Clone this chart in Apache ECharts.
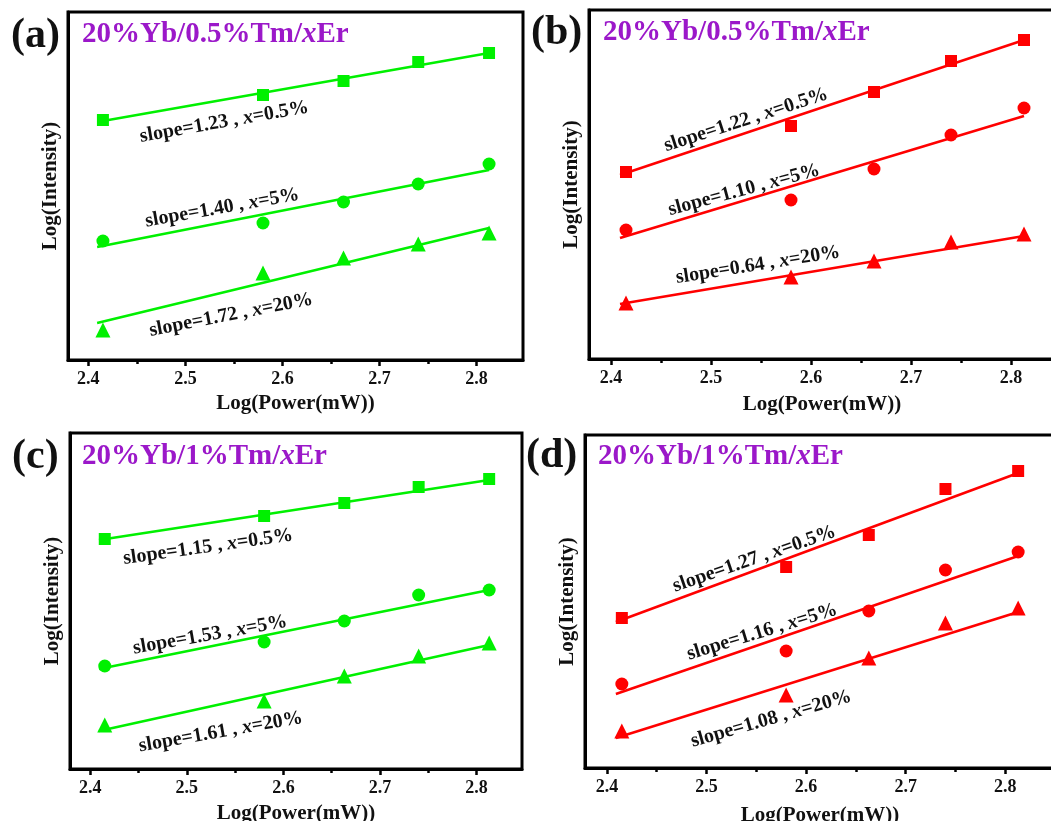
<!DOCTYPE html>
<html>
<head>
<meta charset="utf-8">
<script src="https://cdn.jsdelivr.net/npm/echarts@6/dist/echarts.min.js"></script>
<style>
  html, body { margin: 0; padding: 0; background: #fff; }
  #chart { width: 1051px; height: 821px; }
</style>
</head>
<body>
<div id="chart"></div>
<script>
// x values: log10 of pump power (260, 380, 460, 550, 650 mW)
const powerLog = [2.415, 2.580, 2.663, 2.740, 2.813]
const fitX = [2.409, 2.813]
const xTicks = [2.4, 2.5, 2.6, 2.7, 2.8]
const xMinorTicks = [2.45, 2.55, 2.65, 2.75]
const erContent = ['0.5%', '5%', '20%']

// (a) 20%Yb/0.5%Tm/xEr, green
const aSquare = [2.40, 2.65, 2.79, 2.98, 3.07]
const aCircle = [1.19, 1.37, 1.58, 1.76, 1.96]
const aTriangle = [0.30, 0.87, 1.02, 1.16, 1.27]
const aFitSquare = [2.38, 3.07]
const aFitCircle = [1.13, 1.90]
const aFitTriangle = [0.37, 1.32]
const aSlopes = ['1.23', '1.40', '1.72']

// (b) 20%Yb/0.5%Tm/xEr, red
const bSquare = [1.87, 2.33, 2.67, 2.98, 3.19]
const bCircle = [1.29, 1.59, 1.90, 2.24, 2.51]
const bTriangle = [0.56, 0.82, 0.98, 1.17, 1.25]
const bFitSquare = [1.84, 3.19]
const bFitCircle = [1.21, 2.43]
const bFitTriangle = [0.55, 1.23]
const bSlopes = ['1.22', '1.10', '0.64']

// (c) 20%Yb/1%Tm/xEr, green
const cSquare = [2.30, 2.53, 2.66, 2.82, 2.90]
const cCircle = [1.03, 1.27, 1.48, 1.74, 1.79]
const cTriangle = [0.44, 0.68, 0.93, 1.13, 1.26]
const cFitSquare = [2.29, 2.89]
const cFitCircle = [1.00, 1.79]
const cFitTriangle = [0.38, 1.24]
const cSlopes = ['1.15', '1.53', '1.61']

// (d) 20%Yb/1%Tm/xEr, red
const dSquare = [1.50, 2.01, 2.33, 2.79, 2.97]
const dCircle = [0.84, 1.17, 1.57, 1.98, 2.16]
const dTriangle = [0.37, 0.73, 1.10, 1.45, 1.60]
const dFitSquare = [1.46, 2.95]
const dFitCircle = [0.74, 2.12]
const dFitTriangle = [0.30, 1.56]
const dSlopes = ['1.27', '1.16', '1.08']

const GREEN = '#00f000'
const RED = '#ff0000'
const PURPLE = '#9b18c9'
const SERIF = '"Liberation Serif", "Times New Roman", serif'

const panels = [
  {
    letter: '(a)', title: '20%Yb/0.5%Tm/', color: GREEN,
    square: aSquare, circle: aCircle, triangle: aTriangle,
    fits: [aFitSquare, aFitCircle, aFitTriangle], slopes: aSlopes,
    grid: { left: 68, top: 12, width: 455, height: 348 }, xMin: 2.379, xMax: 2.848, yMax: 3.48,
    letterPos: [11, 36], titlePos: [82, 35], nameGap: 33,
    labels: [[2.540, 2.38, 10], [2.538, 1.52, 10], [2.547, 0.45, 11]]
  },
  {
    letter: '(b)', title: '20%Yb/0.5%Tm/', color: RED,
    square: bSquare, circle: bCircle, triangle: bTriangle,
    fits: [bFitSquare, bFitCircle, bFitTriangle], slopes: bSlopes,
    grid: { left: 589, top: 10, width: 466, height: 349 }, xMin: 2.378, xMax: 2.844, yMax: 3.49,
    letterPos: [531, 33], titlePos: [603, 33], nameGap: 35,
    labels: [[2.535, 2.39, 18], [2.533, 1.69, 15], [2.547, 0.94, 9]]
  },
  {
    letter: '(c)', title: '20%Yb/1%Tm/', color: GREEN,
    square: cSquare, circle: cCircle, triangle: cTriangle,
    fits: [cFitSquare, cFitCircle, cFitTriangle], slopes: cSlopes,
    grid: { left: 70, top: 433, width: 452, height: 336 }, xMin: 2.379, xMax: 2.847, yMax: 3.36,
    letterPos: [12, 457], titlePos: [82, 457], nameGap: 34,
    labels: [[2.522, 2.22, 8], [2.524, 1.34, 10], [2.535, 0.37, 10]]
  },
  {
    letter: '(d)', title: '20%Yb/1%Tm/', color: RED,
    square: dSquare, circle: dCircle, triangle: dTriangle,
    fits: [dFitSquare, dFitCircle, dFitTriangle], slopes: dSlopes,
    grid: { left: 585, top: 435, width: 470, height: 333 }, xMin: 2.378, xMax: 2.850, yMax: 3.33,
    letterPos: [526, 456], titlePos: [598, 457], nameGap: 37,
    labels: [[2.548, 2.09, 19], [2.556, 1.36, 17], [2.565, 0.49, 16]]
  }
]

const zip = (xs, ys) => xs.map((x, i) => [x, ys[i]])

const grid = []
const xAxis = []
const yAxis = []
const series = []
const graphic = []
const fitSeriesIndex = []

panels.forEach((p, i) => {
  grid.push({
    ...p.grid,
    outerBoundsMode: 'none',
    containLabel: false,
    show: true,
    borderColor: '#000',
    borderWidth: 3,
    backgroundColor: 'transparent'
  })
  // main x axis: labels + major ticks
  xAxis.push({
    gridIndex: i,
    type: 'value',
    position: 'bottom',
    min: p.xMin,
    max: p.xMax,
    axisLine: { show: true, lineStyle: { color: '#000', width: 3 } },
    axisTick: { show: true, customValues: xTicks, length: 6, lineStyle: { color: '#000', width: 2.5 } },
    axisLabel: {
      customValues: xTicks,
      formatter: v => v.toFixed(1),
      margin: 10,
      color: '#111',
      fontSize: 18,
      fontWeight: 'bold',
      fontFamily: SERIF
    },
    splitLine: { show: false },
    name: 'Log(Power(mW))',
    nameLocation: 'middle',
    nameGap: p.nameGap,
    nameTextStyle: { color: '#111', fontSize: 21, fontWeight: 'bold', fontFamily: SERIF }
  })
  // second x axis only for minor ticks
  xAxis.push({
    gridIndex: i,
    type: 'value',
    position: 'bottom',
    offset: 0,
    min: p.xMin,
    max: p.xMax,
    axisLine: { show: false },
    axisTick: { show: true, customValues: xMinorTicks, length: 4, lineStyle: { color: '#000', width: 2.5 } },
    axisLabel: { show: false },
    splitLine: { show: false }
  })
  yAxis.push({
    gridIndex: i,
    type: 'value',
    min: 0,
    max: p.yMax,
    axisLine: { show: true, lineStyle: { color: '#000', width: 3 } },
    axisTick: { show: false },
    axisLabel: { show: false },
    splitLine: { show: false },
    name: 'Log(Intensity)',
    nameLocation: 'middle',
    nameGap: 7,
    nameTextStyle: { color: '#111', fontSize: 21, fontWeight: 'bold', fontFamily: SERIF }
  })

  const marks = [
    { data: p.square, symbol: 'rect', size: 12 },
    { data: p.circle, symbol: 'circle', size: 13 },
    { data: p.triangle, symbol: 'triangle', size: 15 }
  ]
  marks.forEach((m, k) => {
    // fit line
    fitSeriesIndex.push(series.length)
    series.push({
      type: 'line',
      xAxisIndex: 2 * i,
      yAxisIndex: i,
      data: zip(fitX, p.fits[k]),
      showSymbol: false,
      symbol: 'none',
      lineStyle: { color: p.color, width: 2.5 },
      silent: true,
      z: 2
    })
    // measured points
    series.push({
      type: 'scatter',
      xAxisIndex: 2 * i,
      yAxisIndex: i,
      data: zip(powerLog, m.data),
      symbol: m.symbol,
      symbolSize: m.size,
      itemStyle: { color: p.color, opacity: 1 },
      silent: true,
      z: 3
    })
  })

  graphic.push({
    type: 'text',
    x: p.letterPos[0],
    y: p.letterPos[1],
    style: {
      text: p.letter,
      fill: '#111',
      font: 'bold 42px ' + SERIF,
      align: 'left',
      verticalAlign: 'middle'
    }
  })
  graphic.push({
    type: 'text',
    x: p.titlePos[0],
    y: p.titlePos[1],
    style: {
      text: '{n|' + p.title + '}{i|x}{n|Er}',
      align: 'left',
      verticalAlign: 'middle',
      rich: {
        n: { fill: PURPLE, fontSize: 29, fontWeight: 'bold', fontFamily: SERIF },
        i: { fill: PURPLE, fontSize: 29, fontWeight: 'bold', fontStyle: 'italic', fontFamily: SERIF }
      }
    }
  })
})

const myChart = echarts.init(document.getElementById('chart'), null, { renderer: 'canvas' })
myChart.setOption({
  animation: false,
  backgroundColor: '#fff',
  grid,
  xAxis,
  yAxis,
  series,
  graphic
})

// slope annotations, placed in data coordinates of each panel
const notes = []
panels.forEach((p, i) => {
  p.labels.forEach((lab, k) => {
    const pt = myChart.convertToPixel({ seriesIndex: fitSeriesIndex[i * 3 + k] }, [lab[0], lab[1]])
    notes.push({
      type: 'text',
      x: pt[0],
      y: pt[1],
      rotation: lab[2] * Math.PI / 180,
      style: {
        text: '{n|slope=' + p.slopes[k] + ' , }{i|x}{n|=' + erContent[k] + '}',
        align: 'center',
        verticalAlign: 'middle',
        rich: {
          n: { fill: '#111', fontSize: 20, fontWeight: 'bold', fontFamily: SERIF },
          i: { fill: '#111', fontSize: 20, fontWeight: 'bold', fontStyle: 'italic', fontFamily: SERIF }
        }
      }
    })
  })
})
myChart.setOption({ graphic: graphic.concat(notes) })
</script>
</body>
</html>
